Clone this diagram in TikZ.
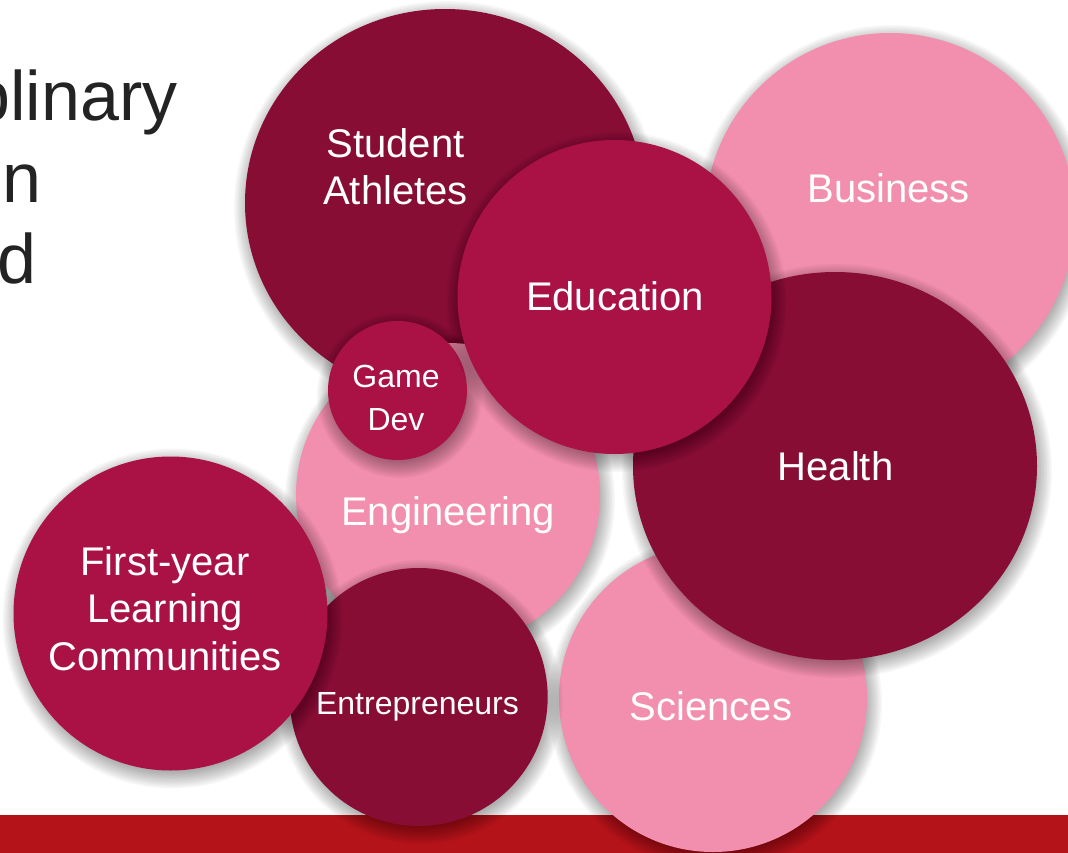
\documentclass[tikz,border=0pt]{standalone}
\usepackage{fontspec}
\setmainfont{Liberation Sans}
\usetikzlibrary{shapes.geometric}
\definecolor{darkc}{HTML}{870D35}
\definecolor{crimc}{HTML}{AA1245}
\definecolor{pinkc}{HTML}{F28EAE}
\definecolor{barc}{HTML}{B41319}
\definecolor{titlec}{HTML}{232323}
\tikzset{
  shadowlayer/.style={fill=black, draw=none, opacity=0.032},
  bubshape/.style 2 args={ellipse, inner sep=0pt, draw=none,
      minimum width=#1*1.5pt, minimum height=#2*1.5pt},
  lbl/.style={text=white, anchor=base, inner sep=0pt, font=\fontsize{30}{36}\selectfont},
  lbls/.style={text=white, anchor=base, inner sep=0pt, font=\fontsize{24}{29}\selectfont},
  ttl/.style={text=titlec, inner sep=0pt, font=\fontsize{52.5}{60}\selectfont},
}
% #1 name, #2 x, #3 y, #4 x radius (px), #5 y radius (px), #6 colour
\newcommand\mybub[6]{%
  \foreach \k in {0,...,15}{%
    \fill[shadowlayer] (#2+2,#3+5) ellipse
      [x radius={(#4+13-\k*1.6)*0.75pt}, y radius={(#5+13-\k*1.6)*0.75pt}];
  }%
  \node[bubshape={#4}{#5}, fill=#6] (#1) at (#2,#3) {};
}
\begin{document}
\begin{tikzpicture}[x=0.75pt, y=-0.75pt]
  \useasboundingbox (0,0) rectangle (1068,853);
  \clip (0,0) rectangle (1068,853);
  \fill[white] (0,0) rectangle (1068,853);
  % title fragments
  \node[ttl, anchor=base east] (t1) at (178,120.7) {plinary};
  \node[ttl, anchor=base west] (t2) at (2,202.7) {n};
  \node[ttl, anchor=base west] (t3) at (-2.5,283.3) {d};
  % bottom bar
  \fill[barc] (0,815) rectangle (1068,853);
  % bubbles (back to front)
  \mybub{bus}{890}{218}{185}{185}{pinkc}
  \mybub{sci}{713}{698}{154}{154}{pinkc}
  \mybub{hea}{835}{466}{202}{194}{darkc}
  \mybub{sa}{445}{203}{200}{194}{darkc}
  \mybub{eng}{448}{495}{152}{152}{pinkc}
  \mybub{gd}{397.5}{390.5}{69.5}{69.5}{crimc}
  \mybub{edu}{614.5}{297}{157}{157}{crimc}
  \mybub{ent}{418.7}{697}{129}{129}{darkc}
  \mybub{fy}{170.5}{613.5}{157}{157}{crimc}
  % labels
  \node[lbl] (sa1) at (395.5,157) {Student};
  \node[lbl] (sa2) at (395.5,204) {Athletes};
  \node[lbl] (bus1) at (888.5,202) {Business};
  \node[lbl] (edu1) at (615,310) {Education};
  \node[lbl] (hea1) at (835.5,480) {Health};
  \node[lbl] (sci1) at (711,720) {Sciences};
  \node[lbl] (eng1) at (448,525) {Engineering};
  \node[lbls] (gd1) at (396,387) {Game};
  \node[lbls] (gd2) at (396,430) {Dev};
  \node[lbls] (ent1) at (417.5,714) {Entrepreneurs};
  \node[lbl] (fy1) at (165,575.7) {First-year};
  \node[lbl] (fy2) at (165,622.7) {Learning};
  \node[lbl] (fy3) at (165,670.7) {Communities};
\end{tikzpicture}
\end{document}
